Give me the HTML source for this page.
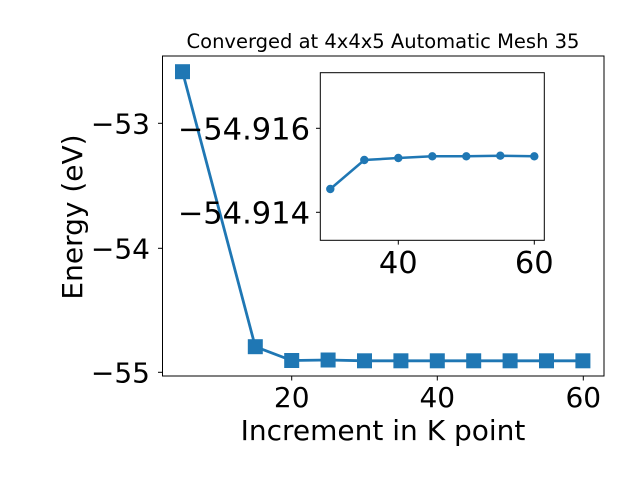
<!DOCTYPE html>
<html><head><meta charset="utf-8"><style>html,body{margin:0;padding:0;background:#fff}svg{display:block}</style></head>
<body>
<svg width="640" height="480" xmlns="http://www.w3.org/2000/svg" font-family="DejaVu Sans, Liberation Sans, sans-serif">
<rect width="640" height="480" fill="#fff"/>
<text x="383" y="48" font-size="19.5" text-anchor="middle">Converged at 4x4x5 Automatic Mesh 35</text>
<rect x="162.5" y="56" width="441.5" height="320" fill="none" stroke="#000" stroke-width="1"/>
<g stroke="#000" stroke-width="1">
<line x1="158" y1="123.3" x2="162.5" y2="123.3"/>
<line x1="158" y1="248.3" x2="162.5" y2="248.3"/>
<line x1="158" y1="372.3" x2="162.5" y2="372.3"/>
<line x1="291.7" y1="376" x2="291.7" y2="380.5"/>
<line x1="437.3" y1="376" x2="437.3" y2="380.5"/>
<line x1="583.3" y1="376" x2="583.3" y2="380.5"/>
</g>
<g font-size="28" text-anchor="end">
<text x="150" y="133.5">−53</text>
<text x="150" y="258.5">−54</text>
<text x="150" y="382.5">−55</text>
</g>
<g font-size="28" text-anchor="middle">
<text x="291.7" y="407">20</text>
<text x="437.3" y="407">40</text>
<text x="583.3" y="407">60</text>
<text x="383" y="440">Increment in K point</text>
</g>
<text transform="translate(82,217) rotate(-90)" font-size="28" text-anchor="middle">Energy (eV)</text>
<polyline fill="none" stroke="#1f77b4" stroke-width="2.8" points="182.5,71.7 255.3,346.7 291.7,360.5 328.1,360 364.5,360.8 400.9,360.8 437.3,360.8 473.7,360.8 510.1,360.8 546.5,360.8 582.9,360.8"/>
<g fill="#1f77b4">
<rect x="175" y="64.2" width="15" height="15"/>
<rect x="247.8" y="339.2" width="15" height="15"/>
<rect x="284.2" y="353" width="15" height="15"/>
<rect x="320.6" y="352.5" width="15" height="15"/>
<rect x="357" y="353.3" width="15" height="15"/>
<rect x="393.4" y="353.3" width="15" height="15"/>
<rect x="429.8" y="353.3" width="15" height="15"/>
<rect x="466.2" y="353.3" width="15" height="15"/>
<rect x="502.6" y="353.3" width="15" height="15"/>
<rect x="539" y="353.3" width="15" height="15"/>
<rect x="575.4" y="353.3" width="15" height="15"/>
</g>
<rect x="320.3" y="72.7" width="224" height="167.6" fill="#fff" stroke="#000" stroke-width="1"/>
<g stroke="#000" stroke-width="1">
<line x1="316" y1="128.3" x2="320.3" y2="128.3"/>
<line x1="316" y1="212.3" x2="320.3" y2="212.3"/>
<line x1="398.3" y1="240.3" x2="398.3" y2="244.6"/>
<line x1="534.3" y1="240.3" x2="534.3" y2="244.6"/>
</g>
<g font-size="30.5" text-anchor="end">
<text x="310" y="139.5">−54.916</text>
<text x="310" y="223.5">−54.914</text>
</g>
<g font-size="30.5" text-anchor="middle">
<text x="398.3" y="273">40</text>
<text x="534.3" y="273">60</text>
</g>
<polyline fill="none" stroke="#1f77b4" stroke-width="2.5" points="330.3,189 364.3,160 398.3,158 432.3,156.3 466.3,156.3 500.3,155.7 534.3,156.3"/>
<g fill="#1f77b4">
<circle cx="330.3" cy="189" r="4.2"/><circle cx="364.3" cy="160" r="4.2"/><circle cx="398.3" cy="158" r="4.2"/><circle cx="432.3" cy="156.3" r="4.2"/><circle cx="466.3" cy="156.3" r="4.2"/><circle cx="500.3" cy="155.7" r="4.2"/><circle cx="534.3" cy="156.3" r="4.2"/>
</g>
</svg>
</body></html>
